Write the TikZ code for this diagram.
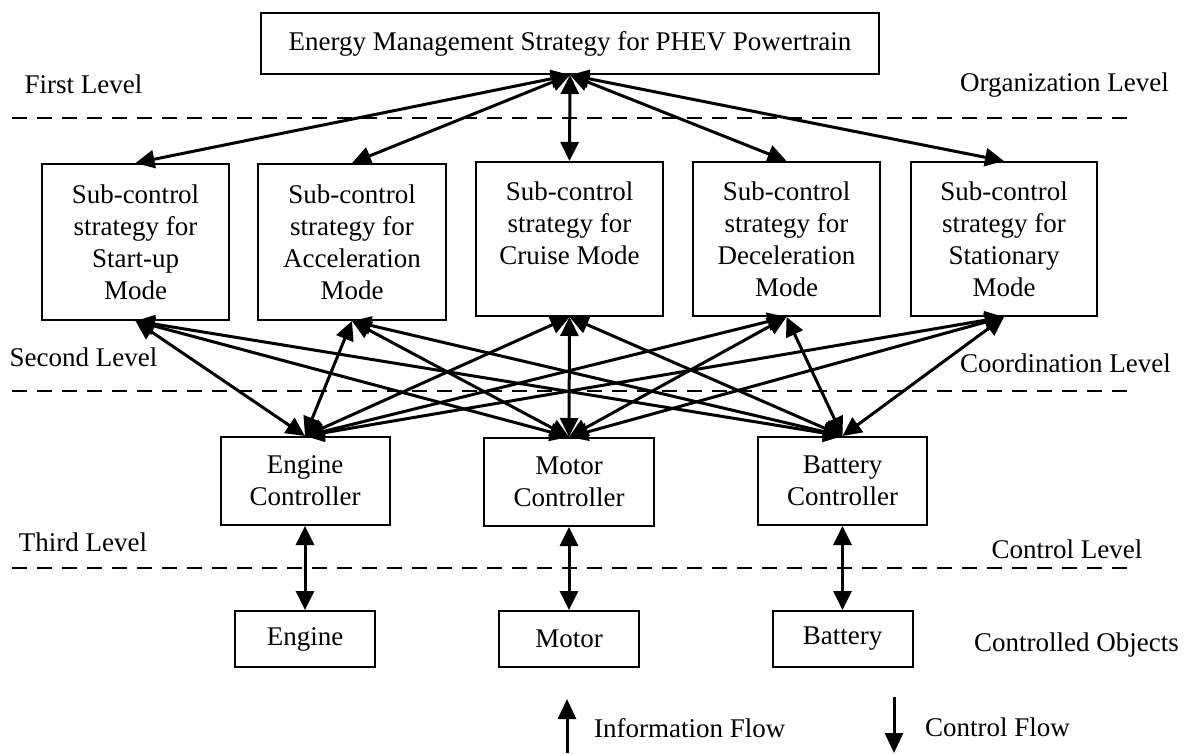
\documentclass[tikz,border=0pt]{standalone}
\usepackage{fontspec}
\setmainfont{Liberation Serif}
\usetikzlibrary{arrows.meta}
\begin{document}
\begin{tikzpicture}[x=1pt,y=-1pt,
  font=\fontsize{27}{32}\selectfont,
  box/.style={draw, line width=2pt, inner sep=0pt, align=center},
  lab/.style={inner sep=0pt, align=center},
  dashline/.style={line width=2pt, dash pattern=on 15pt off 10pt},
  biarrow/.style={line width=3pt, {Triangle[length=19pt,width=18pt]}-{Triangle[length=19pt,width=18pt]}},
  onearrow/.style={line width=3pt, -{Triangle[length=20pt,width=18pt]}}
]
\useasboundingbox (0,0) rectangle (1190,753);
\fill[white] (0,0) rectangle (1190,753);

% top
\node[box, minimum width=618pt, minimum height=61pt] (top) at (570,43.5) {Energy Management Strategy for PHEV Powertrain};

% sub-control boxes
\node[box, minimum width=187pt, minimum height=156pt] (su) at (135.5,242) {Sub-control\\strategy for\\Start-up\\Mode};
\node[box, minimum width=188pt, minimum height=156pt] (ac) at (352,242) {Sub-control\\strategy for\\Acceleration\\Mode};
\node[box, minimum width=187pt, minimum height=154pt] (cr) at (569.5,239) {Sub-control\\strategy for\\Cruise Mode\\\mbox{}};
\node[box, minimum width=187pt, minimum height=154pt] (de) at (786.5,239) {Sub-control\\strategy for\\Deceleration\\Mode};
\node[box, minimum width=186pt, minimum height=154pt] (st) at (1004,239) {Sub-control\\strategy for\\Stationary\\Mode};

% controllers
\node[box, minimum width=169pt, minimum height=88pt] (ec) at (305,481) {Engine\\Controller};
\node[box, minimum width=170pt, minimum height=88pt] (mc) at (569,482) {Motor\\Controller};
\node[box, minimum width=169pt, minimum height=88pt] (bc) at (842.5,481) {Battery\\Controller};

% controlled objects
\node[box, minimum width=140pt, minimum height=56pt] (en) at (305,639) {Engine};
\node[box, minimum width=140pt, minimum height=56pt] (mo) at (569,639) {Motor};
\node[box, minimum width=140pt, minimum height=56pt] (ba) at (842.5,639) {Battery};

% level labels
\node[lab] (l1) at (83.5,84) {First Level};
\node[lab] (r1) at (1064.5,85) {Organization Level};
\node[lab] (l2) at (83.5,357) {Second Level};
\node[lab] (r2) at (1065.5,363) {Coordination Level};
\node[lab] (l3) at (83,542) {Third Level};
\node[lab] (r3) at (1067,549) {Control Level};
\node[lab] (r4) at (1076.5,645) {Controlled Objects};

% dashed separators
\draw[dashline] (12,118) -- (1127,118);
\draw[dashline] (12,391) -- (1127,391);
\draw[dashline] (12,568) -- (1127,568);

% top to sub-control
\foreach \b in {su,ac,cr,de,st}{
  \draw[biarrow] (top.south) -- (\b.north);
}

% sub-control to controllers
\foreach \b in {su,ac,cr,de,st}{
  \foreach \c in {ec,mc,bc}{
    \draw[biarrow] (\b.south) -- (\c.north);
  }
}

% controllers to objects
\draw[biarrow] (ec.south) -- (en.north);
\draw[biarrow] (mc.south) -- (mo.north);
\draw[biarrow] (bc.south) -- (ba.north);

% legend
\coordinate (ia1) at (567,753);
\coordinate (ia2) at (567,699);
\draw[onearrow] (ia1) -- (ia2);
\node[lab, anchor=west] (il) at (594,728) {Information Flow};
\coordinate (ca1) at (894,697);
\coordinate (ca2) at (894,753);
\draw[onearrow] (ca1) -- (ca2);
\node[lab, anchor=west] (cl) at (925,727) {Control Flow};
\end{tikzpicture}
\end{document}
